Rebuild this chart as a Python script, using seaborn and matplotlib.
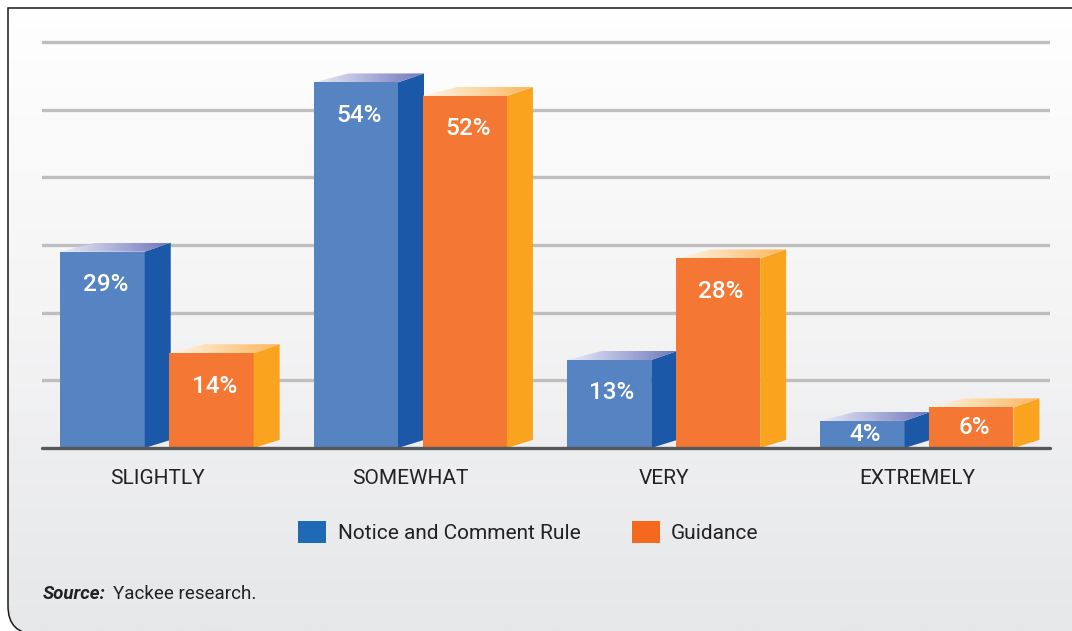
import numpy as np
import pandas as pd
import matplotlib
matplotlib.use("Agg")
import matplotlib.pyplot as plt
import seaborn as sns
from matplotlib.patches import Polygon, PathPatch, Patch
from matplotlib.path import Path
import matplotlib.colors as mcolors

# ---------------- data ----------------
categories = ["SLIGHTLY", "SOMEWHAT", "VERY", "EXTREMELY"]
series_names = ["Notice and Comment Rule", "Guidance"]
notice_values = [29, 54, 13, 4]
guidance_values = [14, 52, 28, 6]
grid_ticks = [10, 20, 30, 40, 50, 60]
source_label = "Source:"
source_text = "Yackee research."

df = pd.DataFrame({
    "category": categories * 2,
    "series": [series_names[0]] * len(categories) + [series_names[1]] * len(categories),
    "value": notice_values + guidance_values,
})

# ---------------- style ----------------
FONT = ["Roboto", "DejaVu Sans"]
sns.set_theme(style="white")
plt.rcParams["font.family"] = FONT

front_colors = {series_names[0]: "#5683c2", series_names[1]: "#f47733"}
side_colors = {series_names[0]: "#1b59a8", series_names[1]: "#f9a31f"}
top_colors = {series_names[0]: ["#e9ebf7", "#6f77bb"], series_names[1]: ["#fff6ea", "#fbb55a"]}
legend_colors = {series_names[0]: "#1f6ab5", series_names[1]: "#f4681f"}

W, H = 1072, 631
fig = plt.figure(figsize=(W / 100, H / 100), dpi=100)
fig.patch.set_facecolor("white")

# background panel with border (square top-left, rounded bottom-left)
bg = fig.add_axes([0, 0, 1, 1], zorder=-10)
bg.set_xlim(0, W)
bg.set_ylim(H, 0)
bg.axis("off")
r = 28
yb = H + 3
fill_verts = [(W + 10, 8), (8, 8), (8, yb - r), (8, yb), (8 + r, yb), (W + 10, yb), (W + 10, 8)]
fill_codes = [Path.MOVETO, Path.LINETO, Path.LINETO, Path.CURVE3, Path.CURVE3, Path.LINETO, Path.CLOSEPOLY]
fill_patch = PathPatch(Path(fill_verts, fill_codes), facecolor="none", edgecolor="none")
bg.add_patch(fill_patch)
grad = np.linspace(0, 1, 256)[:, None]
bg_cmap = mcolors.LinearSegmentedColormap.from_list("bg", ["#ffffff", "#f4f4f5", "#e6e7e9"])
im = bg.imshow(grad, extent=[0, W, H, 0], cmap=bg_cmap, aspect="auto", origin="upper")
im.set_clip_path(fill_patch)
edge_verts = [(W + 10, 8), (8, 8), (8, yb - r), (8, yb), (8 + r, yb)]
edge_codes = [Path.MOVETO, Path.LINETO, Path.LINETO, Path.CURVE3, Path.CURVE3]
bg.add_patch(PathPatch(Path(edge_verts, edge_codes), facecolor="none", edgecolor="#1a1a1a",
                       lw=1.1, clip_on=False))

# main axes
ax_left, ax_right, ax_base, ax_top = 42, 1050, 448, 21.5
ax = fig.add_axes([ax_left / W, 1 - ax_base / H, (ax_right - ax_left) / W, (ax_base - ax_top) / H])
ax.patch.set_alpha(0)

sns.barplot(data=df, x="category", y="value", hue="series", order=categories,
            hue_order=series_names, palette=front_colors, width=0.86, gap=0.225,
            saturation=1, ax=ax, legend=False, zorder=3)

xlim = (-0.454, 3.526)
ylim = (0, 63)
ax.set_xlim(*xlim)
ax.set_ylim(*ylim)

# pseudo-3D faces built from the bar patches seaborn drew
px_per_x = (ax_right - ax_left) / (xlim[1] - xlim[0])
px_per_y = (ax_base - ax_top) / (ylim[1] - ylim[0])
dx_r = 26 / px_per_x
dx_l = 35 / px_per_x
dy = 9 / px_per_y

bars = sorted([p for p in ax.patches], key=lambda p: p.get_x())
series_for = {}
for cont, name in zip(ax.containers, series_names):
    for p in cont:
        series_for[id(p)] = name

for i, p in enumerate(bars):
    name = series_for[id(p)]
    x0, w, h = p.get_x(), p.get_width(), p.get_height()
    x1 = x0 + w
    z = 3 + i * 0.1
    p.set_zorder(z)
    p.set_edgecolor("none")
    side = Polygon([(x1, 0), (x1 + dx_r, dy * 0.9), (x1 + dx_r, h + dy), (x1, h)],
                   closed=True, facecolor=side_colors[name], edgecolor="none", zorder=z + 0.01)
    ax.add_patch(side)
    top = Polygon([(x0, h), (x0 + dx_l, h + dy), (x1 + dx_r, h + dy), (x1, h)],
                  closed=True, facecolor="none", edgecolor="none", zorder=z + 0.02)
    ax.add_patch(top)
    tcmap = mcolors.LinearSegmentedColormap.from_list("t", top_colors[name])
    gimg = ax.imshow(np.linspace(0, 1, 128)[None, :], extent=[x0, x1 + dx_r, h, h + dy],
                     cmap=tcmap, aspect="auto", origin="lower", zorder=z + 0.02)
    gimg.set_clip_path(top)
    # value label
    off = min(33 / px_per_y, h / 2)
    ax.text(x0 + w / 2 + 3 / px_per_x, h - off, f"{int(round(h))}%", ha="center", va="center",
            color="white", fontsize=17.5, fontweight="medium", zorder=10)

ax.set_xlim(*xlim)
ax.set_ylim(*ylim)

# gridlines & baseline
ax.set_yticks(grid_ticks)
ax.set_yticklabels([])
ax.tick_params(axis="y", length=0)
ax.grid(axis="y", color="#bebec0", lw=2.4)
ax.set_axisbelow(True)
ax.axhline(0, color="#58585a", lw=2.4, zorder=20, clip_on=False)
for s in ax.spines.values():
    s.set_visible(False)

ax.set_xticks(range(len(categories)))
ax.set_xticklabels(categories, fontsize=15, color="#222222")
ax.tick_params(axis="x", length=0, pad=15)
ax.set_xlabel("")
ax.set_ylabel("")

# legend
handles = [Patch(facecolor=legend_colors[n], edgecolor="none", label=n) for n in series_names]
fig.legend(handles=handles, loc="center", bbox_to_anchor=(0.493, 1 - 532 / H), ncol=2,
           frameon=False, fontsize=15, handlelength=1.35, handleheight=1.2,
           handletextpad=0.55, columnspacing=2.45, labelcolor="#222222")

# source note
t1 = fig.text(43 / W, 1 - 594 / H, source_label, fontsize=13.5, fontweight="bold",
              fontstyle="italic", va="center", ha="left", color="#222222")
bg.annotate(source_text, xy=(1, 0), xycoords=t1, xytext=(5, 0), textcoords="offset points",
            fontsize=13.5, va="bottom", ha="left", color="#222222")

fig.savefig("out.png", dpi=100)
